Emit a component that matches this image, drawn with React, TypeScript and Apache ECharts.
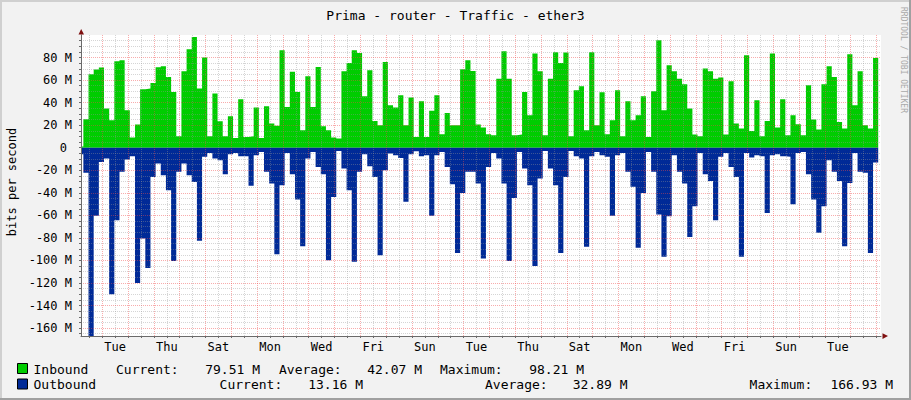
import React, { useEffect, useRef } from "react";
import * as echarts from "echarts";

// ---------- data (Mbit/s), one value per 4.8 h step ----------
const inbound = [
  1.0, 25.3, 65.2, 69.3, 71.1, 34.7, 24.4, 76.7, 77.6, 33.3,
  9.0, 20.5, 51.9, 52.5, 57.5, 71.4, 72.3, 62.8, 49.4, 10.2,
  67.8, 87.3, 98.21, 52.5, 80.0, 10.2, 48.0, 23.5, 10.2, 27.9,
  8.7, 43.0, 9.6, 10.2, 35.6, 8.7, 36.8, 21.4, 19.4, 86.5,
  36.2, 67.3, 49.4, 15.5, 63.4, 36.2, 71.7, 19.1, 15.5, 9.0,
  8.1, 67.8, 75.2, 86.5, 84.1, 45.7, 68.7, 23.8, 20.0, 76.1,
  37.7, 35.6, 46.6, 20.0, 44.5, 9.6, 41.2, 9.6, 32.7, 46.6,
  12.0, 30.9, 20.0, 20.0, 69.6, 77.6, 68.1, 20.5, 17.9, 12.0,
  11.1, 61.3, 85.6, 61.3, 11.1, 11.7, 49.4, 28.8, 83.5, 67.8,
  11.1, 61.3, 84.7, 75.2, 84.4, 10.2, 51.0, 54.5, 15.5, 84.7,
  20.0, 49.2, 12.0, 24.4, 51.0, 10.2, 41.2, 24.4, 28.8, 45.7,
  9.6, 50.1, 95.3, 33.3, 73.2, 67.8, 61.3, 56.3, 34.7, 11.7,
  10.2, 70.2, 67.8, 61.3, 62.2, 11.7, 59.0, 21.4, 17.0, 82.0,
  14.9, 42.1, 10.2, 23.8, 83.5, 17.9, 43.0, 11.1, 28.8, 20.8,
  11.1, 55.4, 25.0, 16.1, 56.3, 72.3, 62.8, 22.9, 17.0, 82.9,
  37.7, 67.8, 20.0, 17.0, 79.51,
];

const outbound = [
  5.8, 22.3, 166.93, 60.4, 12.6, 9.6, 129.9, 64.3, 21.4, 10.5,
  7.5, 119.9, 80.6, 106.6, 25.9, 14.0, 24.4, 37.7, 100.4, 21.4,
  14.0, 24.4, 30.3, 82.6, 8.1, 4.6, 9.6, 11.1, 23.5, 5.8,
  4.6, 7.5, 7.5, 33.8, 6.7, 3.7, 21.4, 31.8, 94.4, 33.3,
  4.6, 23.5, 46.0, 87.4, 9.6, 3.7, 17.0, 23.5, 99.8, 43.6,
  2.8, 18.5, 37.7, 101.2, 21.4, 5.8, 16.4, 25.9, 95.3, 20.0,
  5.2, 6.7, 9.0, 48.0, 5.8, 3.1, 7.5, 6.7, 60.4, 6.7,
  3.7, 17.0, 32.4, 93.3, 40.1, 21.4, 21.4, 31.8, 98.3, 17.0,
  4.6, 9.6, 31.8, 100.4, 44.5, 3.7, 18.5, 33.3, 104.8, 27.3,
  2.8, 18.5, 33.3, 93.3, 25.9, 2.8, 7.5, 9.6, 87.9, 7.5,
  3.7, 6.7, 8.1, 60.4, 6.7, 4.6, 21.4, 34.7, 88.8, 40.1,
  3.7, 21.4, 59.2, 96.8, 60.7, 6.7, 21.4, 31.8, 79.1, 51.9,
  4.6, 23.5, 29.4, 64.3, 8.1, 4.6, 17.0, 25.9, 96.8, 4.6,
  8.7, 6.7, 7.5, 57.8, 6.7, 5.8, 7.5, 8.1, 50.1, 4.6,
  3.7, 23.5, 46.0, 75.5, 51.9, 11.1, 21.4, 29.4, 87.4, 31.2,
  4.6, 21.4, 22.3, 93.3, 13.16,
];

// time axis in hours since the first Monday 00:00
const firstStepStart = 1.6;
const stepHours = 4.8;
const xMin = 4.2;
const xMax = 748.2;

const dayLabels = ["Tue", "Thu", "Sat", "Mon", "Wed", "Fri", "Sun", "Tue", "Thu", "Sat", "Mon", "Wed", "Fri", "Sun", "Tue"];
const dayLabelHours = [36, 84, 132, 180, 228, 276, 324, 372, 420, 468, 516, 564, 612, 660, 708];

const yMin = -167;
const yMax = 100;
const yLabelValues = [-160, -140, -120, -100, -80, -60, -40, -20, 0, 20, 40, 60, 80];

const title = "Prima - router - Traffic - ether3";
const yTitle = "bits per second";
const watermark = "RRDTOOL / TOBI OETIKER";

const legendRows = [
  { name: "Inbound", color: "#00cc00", current: "79.51 M", average: "42.07 M", maximum: "98.21 M" },
  { name: "Outbound", color: "#002a97", current: "13.16 M", average: "32.89 M", maximum: "166.93 M" },
];

// ---------- layout / style ----------
const FONT = '"DejaVu Sans Mono", monospace';
const GRID_LEFT = 81;
const GRID_TOP = 35;
const GRID_RIGHT = 30;
const GRID_BOTTOM = 64;
const AXIS_COLOR = "#6a6a6a";
const ARROW_COLOR = "#7f1010";
const MINOR = "rgba(150,150,150,0.4)";
const MAJOR = "rgba(240,70,70,0.45)";

const legendLayout = [
  { y: 369, box: 363.5, cols: { cur: [116, 260], avg: [279, 422], max: [440, 584] } },
  { y: 384.5, box: 379, cols: { cur: [219.6, 363], avg: [485, 627.5], max: [749.6, 893] } },
];

function stepSeries(values: number[], sign: number) {
  const pts: number[][] = values.map((v, i) => [firstStepStart + i * stepHours, sign * v]);
  const last = values[values.length - 1];
  pts.push([firstStepStart + values.length * stepHours, sign * last]);
  return pts;
}

export default function App() {
  const ref = useRef<HTMLDivElement>(null);

  useEffect(() => {
    if (!ref.current) return;
    const chart = echarts.init(ref.current, undefined, { renderer: "svg" });

    // grid lines
    const majorX: number[] = [];
    const minorX: number[] = [];
    for (let h = 12; h < xMax; h += 12) {
      if (h <= xMin) continue;
      if (h % 24 === 0) majorX.push(h);
      else minorX.push(h);
    }
    const majorY: number[] = [];
    const minorY: number[] = [];
    for (let v = -165; v < yMax; v += 5) {
      if (v === 0) continue;
      if (v % 20 === 0) majorY.push(v);
      else minorY.push(v);
    }
    const tickY: number[] = [];
    for (let v = -165; v < yMax; v += 5) tickY.push(v);
    const tickX = [...majorX, ...minorX].sort((a, b) => a - b);

    const graphics: any[] = [];
    // frame shading
    graphics.push(
      { type: "rect", shape: { x: 0, y: 0, width: 911, height: 2 }, style: { fill: "#d0d0d0" }, silent: true },
      { type: "rect", shape: { x: 0, y: 0, width: 2, height: 400 }, style: { fill: "#d0d0d0" }, silent: true },
      { type: "rect", shape: { x: 909, y: 0, width: 2, height: 400 }, style: { fill: "#a0a0a0" }, silent: true },
      { type: "rect", shape: { x: 0, y: 398, width: 911, height: 2 }, style: { fill: "#a0a0a0" }, silent: true }
    );
    // arrows
    graphics.push(
      { type: "polygon", shape: { points: [[78.5, 34.5], [84, 34.5], [81.2, 29]] }, style: { fill: ARROW_COLOR }, z: 20 },
      { type: "polygon", shape: { points: [[882.5, 333.2], [882.5, 339], [888, 336.1]] }, style: { fill: ARROW_COLOR }, z: 20 }
    );
    const txt = (text: string, x: number, y: number, size: number, align = "left", extra: any = {}) => ({
      type: "text",
      x,
      y,
      ...extra,
      style: {
        text,
        font: `${size}px ${FONT}`,
        fill: extra.fill || "#000",
        align,
        verticalAlign: "middle",
        textAlign: align,
        textVerticalAlign: "middle",
      },
      silent: true,
    });
    graphics.push(txt(title, 455.5, 15, 13, "center"));
    graphics.push(txt(yTitle, 12, 182, 12, "center", { rotation: Math.PI / 2 }));
    graphics.push(txt(watermark, 903.5, 60, 8, "center", { rotation: -Math.PI / 2, fill: "#a9a9a9" }));

    legendRows.forEach((row, i) => {
      const L = legendLayout[i];
      graphics.push({
        type: "rect",
        shape: { x: 17.5, y: L.box, width: 10, height: 10 },
        style: { fill: row.color, stroke: "#000", lineWidth: 1 },
        silent: true,
      });
      graphics.push(txt(row.name, 33.5, L.y, 13));
      graphics.push(txt("Current:", L.cols.cur[0], L.y, 13));
      graphics.push(txt(row.current, L.cols.cur[1], L.y, 13, "right"));
      graphics.push(txt("Average:", L.cols.avg[0], L.y, 13));
      graphics.push(txt(row.average, L.cols.avg[1], L.y, 13, "right"));
      graphics.push(txt("Maximum:", L.cols.max[0], L.y, 13));
      graphics.push(txt(row.maximum, L.cols.max[1], L.y, 13, "right"));
    });

    const gridMarkLine = (color: string, xs: number[], ys: number[]) => ({
      silent: true,
      symbol: ["none", "none"],
      label: { show: false },
      animation: false,
      lineStyle: { color, type: [1, 1], width: 1 },
      emphasis: { disabled: true },
      data: [...xs.map((v) => ({ xAxis: v })), ...ys.map((v) => ({ yAxis: v }))],
    });

    const option: any = {
      animation: false,
      backgroundColor: "#f2f2f2",
      grid: {
        left: GRID_LEFT,
        right: GRID_RIGHT,
        top: GRID_TOP,
        bottom: GRID_BOTTOM,
        show: true,
        backgroundColor: "#ffffff",
        borderWidth: 0,
        containLabel: false,
      },
      xAxis: {
        type: "value",
        min: xMin,
        max: xMax,
        z: 10,
        axisLine: { show: true, onZero: false, lineStyle: { color: AXIS_COLOR, width: 1 } },
        axisTick: { show: true, customValues: tickX, length: 2, lineStyle: { color: AXIS_COLOR } },
        axisLabel: {
          show: true,
          customValues: dayLabelHours,
          formatter: (v: number) => dayLabels[dayLabelHours.indexOf(v)] ?? "",
          fontFamily: FONT,
          fontSize: 12,
          color: "#000",
          margin: 5,
          hideOverlap: false,
        },
        splitLine: { show: false },
      },
      yAxis: {
        type: "value",
        min: yMin,
        max: yMax,
        z: 10,
        axisLine: { show: true, onZero: false, lineStyle: { color: AXIS_COLOR, width: 1 } },
        axisTick: { show: true, customValues: tickY, length: 2, lineStyle: { color: AXIS_COLOR } },
        axisLabel: {
          show: true,
          customValues: yLabelValues,
          formatter: (v: number) => (v === 0 ? "{z|0}" : `${v} M`),
          fontFamily: FONT,
          fontSize: 12,
          color: "#000",
          margin: 9,
          rich: { z: { fontFamily: FONT, fontSize: 12, color: "#000", padding: [0, 5, 0, 0] } },
        },
        splitLine: { show: false },
      },
      series: [
        {
          name: "minor-grid",
          type: "line",
          data: [],
          z: 1,
          silent: true,
          markLine: gridMarkLine(MINOR, minorX, minorY),
        },
        {
          name: "major-grid",
          type: "line",
          data: [],
          z: 1,
          silent: true,
          markLine: gridMarkLine(MAJOR, majorX, majorY),
        },
        {
          name: "Inbound",
          type: "line",
          step: "end",
          data: stepSeries(inbound, 1),
          showSymbol: false,
          symbol: "none",
          lineStyle: { width: 0, opacity: 0 },
          areaStyle: { color: "#00cc00", opacity: 1 },
          z: 3,
          silent: true,
        },
        {
          name: "Outbound",
          type: "line",
          step: "end",
          data: stepSeries(outbound, -1),
          showSymbol: false,
          symbol: "none",
          lineStyle: { width: 0, opacity: 0 },
          areaStyle: { color: "#002a97", opacity: 1 },
          z: 3,
          silent: true,
        },
      ],
      graphic: { elements: graphics },
    };
    chart.setOption(option);
    return () => chart.dispose();
  }, []);

  return (
    <div
      ref={ref}
      style={{ position: "fixed", left: 0, top: 0, width: 911, height: 400 }}
    />
  );
}
